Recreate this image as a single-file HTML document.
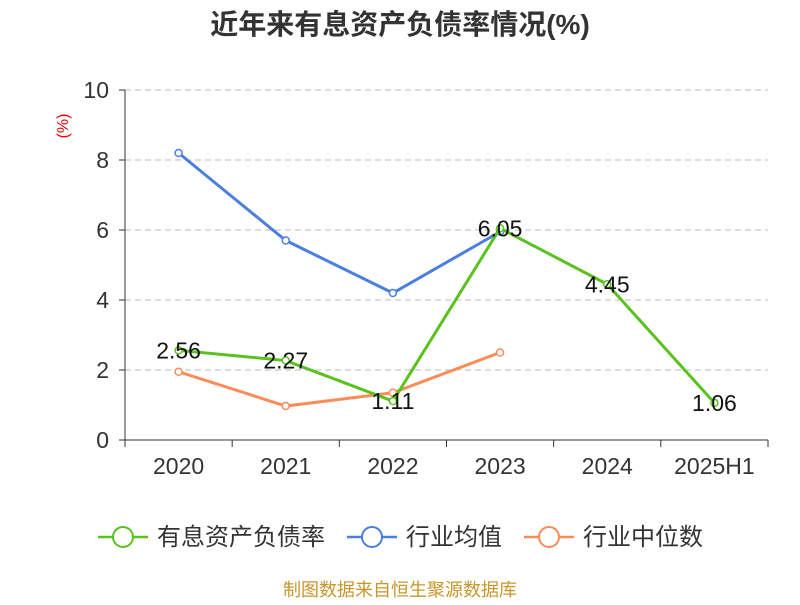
<!DOCTYPE html>
<html><head><meta charset="utf-8"><style>
body{margin:0;background:#fff;}
svg text{font-family:"Liberation Sans","Noto Sans CJK SC",sans-serif;}
</style></head><body>
<svg id="chart" width="800" height="600" viewBox="0 0 800 600">
<text x="400" y="34" text-anchor="middle" font-size="28" font-weight="bold" fill="#333">近年来有息资产负债率情况(%)</text>
<text x="68" y="126" fill="#e00" font-size="16" text-anchor="middle" transform="rotate(-90 68 126)">(%)</text>
<g id="grid"></g><g id="axes"></g><g id="series"></g>
<g>
<g><line x1="98" y1="537" x2="148" y2="537" stroke="#5ac21f" stroke-width="2.5"/><circle cx="123" cy="537" r="10" fill="#fff" stroke="#5ac21f" stroke-width="2"/><text x="157" y="545" font-size="24" fill="#333">有息资产负债率</text></g>
<g><line x1="347" y1="537" x2="397" y2="537" stroke="#4a7fdf" stroke-width="2.5"/><circle cx="372" cy="537" r="10" fill="#fff" stroke="#4a7fdf" stroke-width="2"/><text x="406" y="545" font-size="24" fill="#333">行业均值</text></g>
<g><line x1="524" y1="537" x2="574" y2="537" stroke="#fb8c5a" stroke-width="2.5"/><circle cx="549" cy="537" r="10" fill="#fff" stroke="#fb8c5a" stroke-width="2"/><text x="583" y="545" font-size="24" fill="#333">行业中位数</text></g>
</g>
<text x="400" y="596" text-anchor="middle" font-size="18" fill="#c8962a">制图数据来自恒生聚源数据库</text>
</svg>
<script>
const categories=["2020","2021","2022","2023","2024","2025H1"];
const debtRatio=[2.56,2.27,1.11,6.05,4.45,1.06];
const industryAvg=[8.2,5.7,4.2,5.95];
const industryMedian=[1.95,0.97,1.35,2.5];
const yTicks=[0,2,4,6,8,10];
const NS="http://www.w3.org/2000/svg";
const x0=125,x1=768,y0=440,y1=90,yMax=10;
const band=(x1-x0)/categories.length;
const xs=i=>x0+band*(i+0.5);
const ys=v=>y0-(v/yMax)*(y0-y1);
function mk(t,a,p){const e=document.createElementNS(NS,t);for(const k in a)e.setAttribute(k,a[k]);p.appendChild(e);return e;}
const grid=document.getElementById('grid'),axes=document.getElementById('axes'),ser=document.getElementById('series');
yTicks.forEach(v=>{
 if(v>0){const g=mk('line',{x1:x0,x2:x1,y1:ys(v),y2:ys(v),stroke:'#bbb','stroke-dasharray':'6,4'},grid);
 
 }
 const tk=mk('line',{x1:x0-6,x2:x0,y1:ys(v),y2:ys(v),stroke:'#333'},axes);
 
 
 const t=mk('text',{x:x0-16,y:ys(v)+8,'text-anchor':'end','font-size':23,fill:'#333'},axes);t.textContent=v;
 
 
});
const ya=mk('line',{x1:x0,x2:x0,y1:y1,y2:y0,stroke:'#333'},axes);


const xa=mk('line',{x1:x0,x2:x1,y1:y0,y2:y0,stroke:'#333'},axes);


for(let i=0;i<=categories.length;i++){const tk=mk('line',{x1:x0+band*i,x2:x0+band*i,y1:y0,y2:y0+7,stroke:'#333'},axes);
 
 }
categories.forEach((c,i)=>{const t=mk('text',{x:xs(i),y:474,'text-anchor':'middle','font-size':23,fill:'#333'},axes);t.textContent=c;
 
 });
function series(vals,color,name,labels){
 const g=mk('g',{},ser);
 
 
 const l=mk('polyline',{points:vals.map((v,i)=>xs(i)+','+ys(v)).join(' '),fill:'none',stroke:color,'stroke-width':3},g);
 
 
 vals.forEach((v,i)=>{const c=mk('circle',{cx:xs(i),cy:ys(v),r:3.5,fill:'#fff',stroke:color,'stroke-width':1.5},g);
  
  
  if(labels){const t=mk('text',{x:xs(i),y:ys(v)+8,'text-anchor':'middle','font-size':23,fill:'#111'},g);t.textContent=v.toFixed(2);
  
  }});
}
series(industryAvg,'#4a7fdf','industry-avg-series',false);
series(industryMedian,'#fb8c5a','industry-median-series',false);
series(debtRatio,'#5ac21f','debt-ratio-series',true);
</script>
</body></html>
